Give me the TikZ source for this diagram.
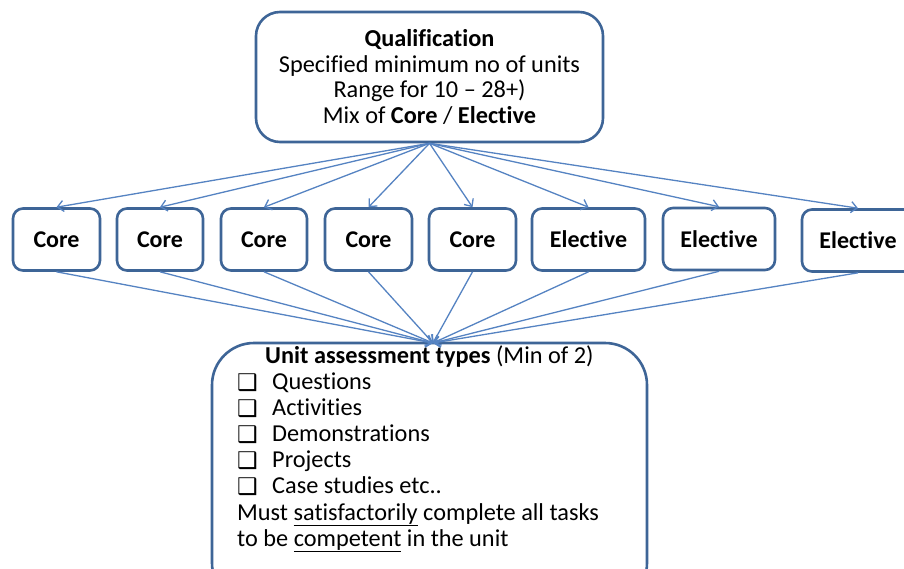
\documentclass[tikz,border=0pt]{standalone}
\usepackage{fontspec}
\setmainfont{Carlito}[Ligatures={NoCommon}]
\newfontfamily\symfont{DejaVu Sans}
\usetikzlibrary{arrows.meta}
\definecolor{boxblue}{HTML}{3E6597}
\definecolor{linkblue}{HTML}{5583C2}
\newcommand{\chkbox}{\makebox[35pt][l]{\raisebox{-1pt}{\fontsize{23}{23}\selectfont\symfont ❑}}}
\tikzset{
  qbox/.style={draw=boxblue, line width=2.6pt, rounded corners=24pt, inner sep=0pt,
    minimum width=347pt, minimum height=130pt, align=center,
    font=\fontsize{24.3}{25.6}\selectfont},
  unitbox/.style={draw=boxblue, line width=2.6pt, rounded corners=10pt, inner sep=0pt,
    minimum height=62pt, font=\fontsize{24}{24}\selectfont\bfseries},
  assessbox/.style={draw=boxblue, line width=2.6pt, rounded corners=42pt, inner sep=0pt,
    minimum width=435pt, minimum height=262pt},
  txt/.style={inner sep=0pt, font=\fontsize{24.3}{26}\selectfont},
  link/.style={draw=linkblue, line width=1.3pt, -{Straight Barb[length=6pt,width=11pt]}},
}
\begin{document}
\begin{tikzpicture}[x=1pt,y=-1pt]
\clip (0,0) rectangle (904,568);
\fill[white] (0,0) rectangle (904,568);

\node[qbox] (q) at (429.5,77) {\textbf{Qualification}\\Specified minimum no of units\\Range for 10 -- 28+)\\Mix of \textbf{Core} / \textbf{Elective}};

\node[unitbox, minimum width=87pt] (c1) at (56.5,239.5) {Core};
\node[unitbox, minimum width=86pt] (c2) at (160,239.5) {Core};
\node[unitbox, minimum width=86pt] (c3) at (264,239.5) {Core};
\node[unitbox, minimum width=87pt] (c4) at (368.5,239.5) {Core};
\node[unitbox, minimum width=87pt] (c5) at (472.5,239.5) {Core};
\node[unitbox, minimum width=113pt] (c6) at (588.5,239.5) {Elective};
\node[unitbox, minimum width=112pt] (c7) at (719,239) {Elective};
\node[unitbox, minimum width=112pt] (c8) at (858,240.5) {Elective};

\node[assessbox] (a) at (429.5,474) {};
\coordinate (tgt) at (433,343);

\foreach \i in {1,...,8} {
  \draw[link] (q.south) -- (c\i.north);
  \draw[link] (c\i.south) -- (tgt);
}

\node[txt, anchor=base west] (t0) at (265,363) {\textbf{Unit assessment types} (Min of 2)};
\node[txt, anchor=base west] (t1) at (237,389) {\chkbox Questions};
\node[txt, anchor=base west] (t2) at (237,415) {\chkbox Activities};
\node[txt, anchor=base west] (t3) at (237,441) {\chkbox Demonstrations};
\node[txt, anchor=base west] (t4) at (237,467) {\chkbox Projects};
\node[txt, anchor=base west] (t5) at (237,493) {\chkbox Case studies etc..};
\node[txt, anchor=base west] (t6) at (237,520) {Must \underline{satisfactorily} complete all tasks};
\node[txt, anchor=base west] (t7) at (237,546) {to be \underline{competent} in the unit};
\end{tikzpicture}
\end{document}
